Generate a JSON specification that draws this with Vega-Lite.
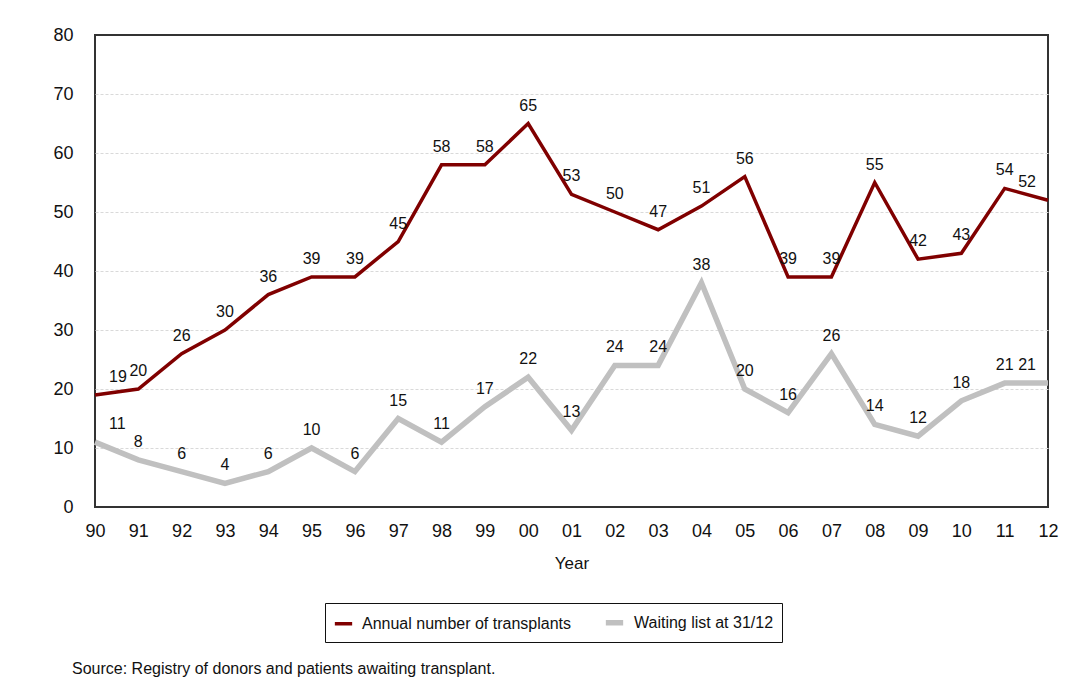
{
  "$schema": "https://vega.github.io/schema/vega-lite/v6.json",
  "width": 953,
  "height": 472,
  "autosize": "none",
  "padding": {"left": 95, "top": 35, "right": 35, "bottom": 186},
  "background": "white",
  "title": {
    "text": "Source: Registry of donors and patients awaiting transplant.",
    "orient": "bottom",
    "anchor": "start",
    "frame": "group",
    "dx": -23,
    "offset": 18,
    "fontSize": 16,
    "fontWeight": "normal",
    "color": "#111"
  },
  "config": {
    "font": "Liberation Sans",
    "view": {"stroke": "#333", "strokeWidth": 2}
  },
  "data": {
    "values": [
      {"Year": "90", "Series": "Annual number of transplants", "Value": 19},
      {"Year": "91", "Series": "Annual number of transplants", "Value": 20},
      {"Year": "92", "Series": "Annual number of transplants", "Value": 26},
      {"Year": "93", "Series": "Annual number of transplants", "Value": 30},
      {"Year": "94", "Series": "Annual number of transplants", "Value": 36},
      {"Year": "95", "Series": "Annual number of transplants", "Value": 39},
      {"Year": "96", "Series": "Annual number of transplants", "Value": 39},
      {"Year": "97", "Series": "Annual number of transplants", "Value": 45},
      {"Year": "98", "Series": "Annual number of transplants", "Value": 58},
      {"Year": "99", "Series": "Annual number of transplants", "Value": 58},
      {"Year": "00", "Series": "Annual number of transplants", "Value": 65},
      {"Year": "01", "Series": "Annual number of transplants", "Value": 53},
      {"Year": "02", "Series": "Annual number of transplants", "Value": 50},
      {"Year": "03", "Series": "Annual number of transplants", "Value": 47},
      {"Year": "04", "Series": "Annual number of transplants", "Value": 51},
      {"Year": "05", "Series": "Annual number of transplants", "Value": 56},
      {"Year": "06", "Series": "Annual number of transplants", "Value": 39},
      {"Year": "07", "Series": "Annual number of transplants", "Value": 39},
      {"Year": "08", "Series": "Annual number of transplants", "Value": 55},
      {"Year": "09", "Series": "Annual number of transplants", "Value": 42},
      {"Year": "10", "Series": "Annual number of transplants", "Value": 43},
      {"Year": "11", "Series": "Annual number of transplants", "Value": 54},
      {"Year": "12", "Series": "Annual number of transplants", "Value": 52},
      {"Year": "90", "Series": "Waiting list at 31/12", "Value": 11},
      {"Year": "91", "Series": "Waiting list at 31/12", "Value": 8},
      {"Year": "92", "Series": "Waiting list at 31/12", "Value": 6},
      {"Year": "93", "Series": "Waiting list at 31/12", "Value": 4},
      {"Year": "94", "Series": "Waiting list at 31/12", "Value": 6},
      {"Year": "95", "Series": "Waiting list at 31/12", "Value": 10},
      {"Year": "96", "Series": "Waiting list at 31/12", "Value": 6},
      {"Year": "97", "Series": "Waiting list at 31/12", "Value": 15},
      {"Year": "98", "Series": "Waiting list at 31/12", "Value": 11},
      {"Year": "99", "Series": "Waiting list at 31/12", "Value": 17},
      {"Year": "00", "Series": "Waiting list at 31/12", "Value": 22},
      {"Year": "01", "Series": "Waiting list at 31/12", "Value": 13},
      {"Year": "02", "Series": "Waiting list at 31/12", "Value": 24},
      {"Year": "03", "Series": "Waiting list at 31/12", "Value": 24},
      {"Year": "04", "Series": "Waiting list at 31/12", "Value": 38},
      {"Year": "05", "Series": "Waiting list at 31/12", "Value": 20},
      {"Year": "06", "Series": "Waiting list at 31/12", "Value": 16},
      {"Year": "07", "Series": "Waiting list at 31/12", "Value": 26},
      {"Year": "08", "Series": "Waiting list at 31/12", "Value": 14},
      {"Year": "09", "Series": "Waiting list at 31/12", "Value": 12},
      {"Year": "10", "Series": "Waiting list at 31/12", "Value": 18},
      {"Year": "11", "Series": "Waiting list at 31/12", "Value": 21},
      {"Year": "12", "Series": "Waiting list at 31/12", "Value": 21}
    ]
  },
  "encoding": {
    "x": {
      "field": "Year",
      "type": "ordinal",
      "sort": null,
      "scale": {"type": "point", "padding": 0},
      "axis": {
        "title": "Year",
        "labelAngle": 0,
        "ticks": false,
        "domain": false,
        "grid": false,
        "labelFontSize": 18,
        "labelPadding": 15,
        "labelColor": "#111",
        "titleFontSize": 17,
        "titleFontWeight": "normal",
        "titlePadding": 15,
        "titleColor": "#111"
      }
    },
    "y": {
      "field": "Value",
      "type": "quantitative",
      "scale": {"domain": [0, 80]},
      "axis": {
        "title": null,
        "values": [0, 10, 20, 30, 40, 50, 60, 70, 80],
        "ticks": false,
        "domain": false,
        "labelFontSize": 18,
        "labelPadding": 22,
        "labelColor": "#111",
        "gridColor": "#d9d9d9",
        "gridDash": [3, 2],
        "gridOpacity": {"condition": {"test": "datum.value == 80 || datum.value == 0", "value": 0}, "value": 1}
      }
    }
  },
  "layer": [
    {
      "mark": {"type": "line"},
      "encoding": {
        "color": {
          "field": "Series",
          "type": "nominal",
          "scale": {
            "domain": ["Annual number of transplants", "Waiting list at 31/12"],
            "range": ["#800000", "#c0c0c0"]
          },
          "legend": {
            "title": null,
            "orient": "none",
            "legendX": 230,
            "legendY": 568,
            "direction": "horizontal",
            "strokeColor": "#111",
            "padding": 8,
            "symbolType": "stroke",
            "symbolStrokeWidth": 4.5,
            "symbolSize": 300,
            "labelFontSize": 16,
            "labelColor": "#111",
            "labelOffset": 8,
            "labelLimit": 400,
            "columnPadding": 22
          }
        },
        "strokeWidth": {
          "field": "Series",
          "type": "nominal",
          "scale": {
            "domain": ["Annual number of transplants", "Waiting list at 31/12"],
            "range": [3.5, 5.5]
          },
          "legend": null
        }
      }
    },
    {
      "transform": [{"filter": "datum.Year != '90' && datum.Year != '12'"}],
      "mark": {"type": "text", "dy": -13, "baseline": "alphabetic", "fontSize": 16, "color": "#111"},
      "encoding": {"text": {"field": "Value", "type": "quantitative"}}
    },
    {
      "transform": [{"filter": "datum.Year == '90'"}],
      "mark": {"type": "text", "dy": -13, "dx": 14, "align": "left", "baseline": "alphabetic", "fontSize": 16, "color": "#111"},
      "encoding": {"text": {"field": "Value", "type": "quantitative"}}
    },
    {
      "transform": [{"filter": "datum.Year == '12'"}],
      "mark": {"type": "text", "dy": -13, "dx": -12, "align": "right", "baseline": "alphabetic", "fontSize": 16, "color": "#111"},
      "encoding": {"text": {"field": "Value", "type": "quantitative"}}
    }
  ]
}
